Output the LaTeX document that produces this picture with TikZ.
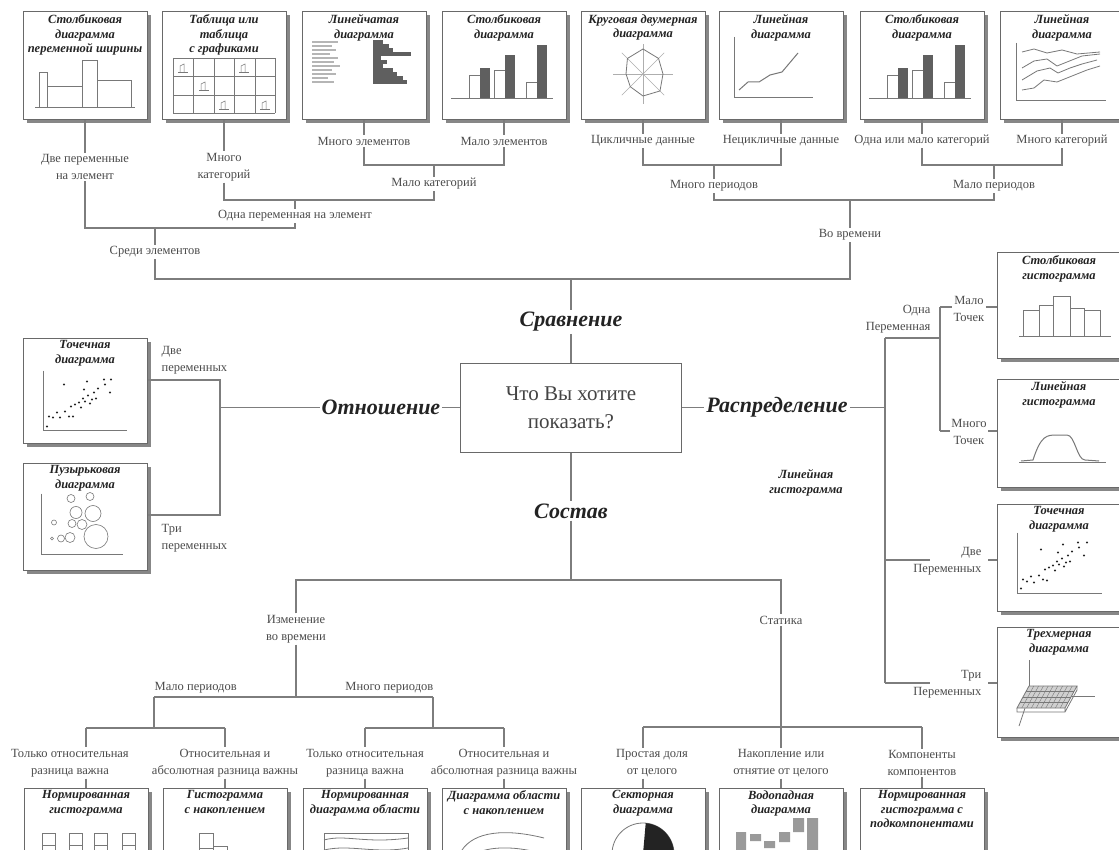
\documentclass[tikz,border=0pt]{standalone}
\usepackage{fontspec}
\setmainfont{Liberation Serif}
\usepackage{tikz}
\usetikzlibrary{calc, shadows}
\definecolor{figL}{RGB}{125,125,125}
\definecolor{figT}{RGB}{75,75,75}
\definecolor{figK}{RGB}{35,35,35}
\definecolor{figB}{RGB}{105,105,105}
\definecolor{figS}{RGB}{135,135,135}
\definecolor{figC}{RGB}{120,120,120}
\definecolor{figD}{RGB}{95,95,95}
\tikzset{
  ln/.style={draw=figL, line width=1.2pt},
  lbl/.style={font=\fontsize{12.5}{17}\selectfont, text=figT, align=center, inner sep=1.5pt},
  cat/.style={font=\fontsize{22}{26}\selectfont\bfseries\itshape, text=figK, inner sep=2pt},
  cbox/.style={draw=figB, fill=white, line width=1pt, minimum width=124pt, minimum height=108pt,
    drop shadow={shadow xshift=3.5pt, shadow yshift=-3.5pt, fill=figS, opacity=1}},
  ctitle/.style={font=\fontsize{12.5}{14.5}\selectfont\bfseries\itshape, text=figK, align=center, inner sep=0pt},
  chart/.style={draw=figC, line width=0.8pt},
}
\newcommand{\boxtitle}[2]{\node[ctitle, anchor=north] (#1-t) at ([yshift=-3pt]#1.north) {#2};}

\begin{document}
\begin{tikzpicture}[x=1pt, y=-1pt]
\useasboundingbox (0,0) rectangle (1119,850);
\clip (0,0) rectangle (1119,850);

% ===== top row: comparison =====
\foreach \nm/\cx in {bVar/85, bTab/224, bBar/364, bCol/504, bRad/643, bLin/781, bColB/922, bLinB/1062}
  \node[cbox] (\nm) at (\cx,66) {};
\boxtitle{bVar}{Столбиковая\\диаграмма\\переменной ширины}
\boxtitle{bTab}{Таблица или\\таблица\\с графиками}
\boxtitle{bBar}{Линейчатая\\диаграмма}
\boxtitle{bCol}{Столбиковая\\диаграмма}
\boxtitle{bRad}{Круговая двумерная\\диаграмма}
\boxtitle{bLin}{Линейная\\диаграмма}
\boxtitle{bColB}{Столбиковая\\диаграмма}
\boxtitle{bLinB}{Линейная\\диаграмма}

% variable width columns
\begin{scope}[shift={(bVar.center)}]
\draw[chart] (-50,41) -- (50,41);
\draw[chart] (-46,41) rectangle (-38,6) (-38,41) rectangle (-3,20) (-3,41) rectangle (12,-6) (12,41) rectangle (46,14);
\end{scope}
% table with charts
\begin{scope}[shift={(bTab.center)}]
\foreach \gx in {-51,-31,-10,10,31,51} \draw[chart, line width=0.6pt] (\gx,-8) -- (\gx,47);
\foreach \gy in {-8,10,29,47} \draw[chart, line width=0.6pt] (-51,\gy) -- (51,\gy);
\foreach \ix/\iy in {-41/1, -20/19, 20/1, 0/38, 41/38} {
  \draw[chart, line width=0.5pt] (\ix-5,\iy+5) -- (\ix+5,\iy+5);
  \draw[chart, line width=0.5pt] (\ix-3,\iy+5) -- (\ix-3,\iy-1) -- (\ix+1,\iy-3) -- (\ix+1,\iy+5);
}
\end{scope}
% bar chart
\begin{scope}[shift={(bBar.center)}]
\foreach \yy/\len in {-24/26, -20/20, -16/24, -12/18, -8/26, -4/22, 0/28, 4/20, 8/24, 12/16, 16/22}
  \draw[figC!55, line width=1.3pt] (-52,\yy) -- ++(\len,0);
\foreach \yy/\len in {-24/10, -20/16, -16/20, -12/38, -8/8, -4/14, 0/10, 4/20, 8/24, 12/30, 16/34}
  \fill[figD] (9,\yy-1.6) rectangle ++(\len,3.4);
\end{scope}
% column charts
\foreach \nm in {bCol, bColB} {
\begin{scope}[shift={(\nm.center)}]
\draw[chart] (-53,32) -- (49,32);
\foreach \xx/\hw/\hd in {-35/23/30, -10/28/43, 22/16/53} {
  \draw[chart] (\xx,32) rectangle ++(11,-\hw);
  \fill[figD] (\xx+11,32) rectangle ++(10,-\hd);
}
\end{scope}}
% radar
\begin{scope}[shift={(bRad.center)}]
\foreach \a in {0,45,...,315} \draw[figC!60, line width=0.5pt] (0,8) -- ++(\a:30);
\draw[chart] ($(0,8)+(0:20)$) -- ($(0,8)+(45:24)$) -- ($(0,8)+(90:22)$) -- ($(0,8)+(135:18)$)
  -- ($(0,8)+(180:17)$) -- ($(0,8)+(225:22)$) -- ($(0,8)+(270:25)$) -- ($(0,8)+(315:22)$) -- cycle;
\end{scope}
% line chart
\begin{scope}[shift={(bLin.center)}]
\draw[chart] (-47,-29) -- (-47,31) -- (32,31);
\draw[chart, line width=1pt] (-42,24) -- (-33,16) -- (-22,16) -- (-11,9) -- (1,6) -- (17,-13);
\end{scope}
% many lines
\begin{scope}[shift={(bLinB.center)}]
\draw[chart] (-46,-23) -- (-46,34) -- (44,34);
\draw[chart] (-40,-14) -- (-28,-17) -- (-15,-13) -- (0,-16) -- (15,-12) -- (38,-14);
\draw[chart] (-40,2) -- (-28,-5) -- (-15,-7) -- (-5,0) -- (5,-4) -- (20,-10) -- (38,-12);
\draw[chart] (-40,14) -- (-25,5) -- (-12,2) -- (-4,7) -- (8,2) -- (20,-2) -- (35,-6);
\draw[chart] (-40,24) -- (-28,22) -- (-18,14) -- (-5,16) -- (10,10) -- (25,4) -- (38,0);
\end{scope}

% ===== top labels and brackets =====
\node[lbl] (lTwoVar) at (85,167) {Две переменные\\на элемент};
\node[lbl] (lManyCat) at (224,167) {Много\\категорий};
\node[lbl] (lManyEl) at (364,141) {Много элементов};
\node[lbl] (lFewEl) at (504,141) {Мало элементов};
\node[lbl] (lFewCat) at (434,184) {Мало категорий};
\node[lbl] (lOneVar) at (295,216) {Одна переменная на элемент};
\node[lbl] (lAmong) at (155,252) {Среди элементов};
\node[lbl] (lCyc) at (643,141) {Цикличные данные};
\node[lbl] (lNonCyc) at (781,141) {Нецикличные данные};
\node[lbl] (lOneFew) at (922,141) {Одна или мало категорий};
\node[lbl] (lManyCatB) at (1062,141) {Много категорий};
\node[lbl] (lManyPer) at (714,186) {Много периодов};
\node[lbl] (lFewPer) at (994,186) {Мало периодов};
\node[lbl] (lOverTime) at (850,235) {Во времени};
\coordinate (jEl) at (434,165);
\coordinate (jCat) at (295,200);
\coordinate (jVar) at (155,228);
\coordinate (jCyc) at (714,165);
\coordinate (jPer) at (994,165);
\coordinate (jTime) at (850,200);
\coordinate (jCmp) at (571,279);

\draw[ln] (bVar.south) -- (lTwoVar.north);
\draw[ln] (bTab.south) -- (lManyCat.north);
\draw[ln] (bBar.south) -- (lManyEl.north);
\draw[ln] (bCol.south) -- (lFewEl.north);
\draw[ln] (bRad.south) -- (lCyc.north);
\draw[ln] (bLin.south) -- (lNonCyc.north);
\draw[ln] (bColB.south) -- (lOneFew.north);
\draw[ln] (bLinB.south) -- (lManyCatB.north);
\draw[ln] (lManyEl.south) |- (jEl) -| (lFewEl.south);
\draw[ln] (jEl) -- (lFewCat.north);
\draw[ln] (lManyCat.south) |- (jCat) -| (lFewCat.south);
\draw[ln] (jCat) -- (lOneVar.north);
\draw[ln] (lTwoVar.south) |- (jVar) -| (lOneVar.south);
\draw[ln] (jVar) -- (lAmong.north);
\draw[ln] (lCyc.south) |- (jCyc) -| (lNonCyc.south);
\draw[ln] (jCyc) -- (lManyPer.north);
\draw[ln] (lOneFew.south) |- (jPer) -| (lManyCatB.south);
\draw[ln] (jPer) -- (lFewPer.north);
\draw[ln] (lManyPer.south) |- (jTime) -| (lFewPer.south);
\draw[ln] (jTime) -- (lOverTime.north);
\draw[ln] (lAmong.south) |- (jCmp) -| (lOverTime.south);

% ===== centre =====
\node[draw=figB, line width=1pt, minimum width=221pt, minimum height=89pt, text=figK!85,
  font=\fontsize{21}{28}\selectfont, align=center] (q) at (571,407.5) {Что Вы хотите\\показать?};
\node[cat] (cCmp) at (571,322) {Сравнение};
\node[cat] (cRel) at (381,407.5) {Отношение};
\node[cat] (cDist) at (777,407.5) {Распределение};
\node[cat] (cComp) at (571,511) {Состав};
\draw[ln] (jCmp) -- (cCmp.north);
\draw[ln] (cCmp.south) -- (q.north);
\draw[ln] (q.west) -- (cRel.east);
\draw[ln] (q.east) -- (cDist.west);
\draw[ln] (q.south) -- (cComp.north);

% ===== relationship =====
\node[cbox, minimum height=105pt] (bSc) at (85,390.5) {};
\node[cbox, minimum height=107pt] (bBub) at (85,516.5) {};
\boxtitle{bSc}{Точечная\\диаграмма}
\boxtitle{bBub}{Пузырьковая\\диаграмма}
\begin{scope}[shift={(bSc.center)}]
\draw[chart] (-42,-20) -- (-42,40) -- (42,40);
\foreach \px/\py in {-38/36, -36/26, -32/27, -28/22, -25/27, -20/21, -16/26, -12/26, -14/16, -10/14, -6/12, -4/17, -2/8, 0/11, 3/5, 5/13, 7/9, 9/2, 11/8, 13/-2, -1/-1, 20/-6, 25/2, 26/-11, 19/-11, -21/-6, 2/-9}
  \fill[figK] (\px,\py) circle (1.1);
\end{scope}
\begin{scope}[shift={(bBub.center)}]
\draw[chart] (-44,-23) -- (-44,38) -- (38,38);
\foreach \bx/\by/\br in {-14/-18/4, 5/-20/4, -9/-4/6, 8/-3/8, -31/6/2.5, -13/7/4, -3/8/5, 11/20/12, -33/22/1.5, -24/22/3.5, -15/21/5}
  \draw[chart, line width=0.6pt] (\bx,\by) circle (\br);
\end{scope}
\node[lbl, anchor=west, align=left] (lTwoRel) at (160,360) {Две\\переменных};
\node[lbl, anchor=west, align=left] (lThreeRel) at (160,538) {Три\\переменных};
\coordinate (jRel) at (220,407.5);
\coordinate (jRelA) at (220,380);
\coordinate (jRelB) at (220,515);
\draw[ln] (cRel.west) -- (jRel);
\draw[ln] (bSc.east |- jRelA) -- (jRelA) -- (jRelB) -- (bBub.east |- jRelB);

% ===== distribution =====
\node[cbox, minimum height=105pt] (bHist) at (1059,305.5) {};
\node[cbox] (bLHist) at (1059,433) {};
\node[cbox, minimum height=107pt] (bScR) at (1059,557.5) {};
\node[cbox, minimum height=110pt] (b3D) at (1059,682) {};
\boxtitle{bHist}{Столбиковая\\гистограмма}
\boxtitle{bLHist}{Линейная\\гистограмма}
\boxtitle{bScR}{Точечная\\диаграмма}
\boxtitle{b3D}{Трехмерная\\диаграмма}
\begin{scope}[shift={(bHist.center)}]
\draw[chart] (-40,31) -- (52,31);
\draw[chart] (-36,31) rectangle (-20,5) (-20,31) rectangle (-6,0) (-6,31) rectangle (11,-9)
  (11,31) rectangle (25,3) (25,31) rectangle (41,5);
\end{scope}
\begin{scope}[shift={(bLHist.center)}]
\draw[chart] (-40,29) -- (47,29);
\draw[chart, line width=1pt] (-38,28) -- (-26,27) .. controls (-18,2) and (-12,2) .. (-2,2) -- (8,2)
  .. controls (16,2) and (18,27) .. (26,27) -- (40,28);
\end{scope}
\begin{scope}[shift={(bScR.center)}]
\draw[chart] (-42,-25) -- (-42,36) -- (43,36);
\foreach \px/\py in {-38/31, -36/22, -32/24, -28/19, -25/25, -20/18, -16/22, -12/23, -14/12, -10/10, -6/8, -4/13, -2/4, 0/7, 3/1, 5/9, 7/5, 9/-2, 11/4, 13/-6, -1/-5, 20/-10, 25/-2, 28/-15, 19/-15, -18/-8, 4/-13}
  \fill[figK] (\px,\py) circle (1.1);
\end{scope}
\begin{scope}[shift={(b3D.center)}]
\draw[chart] (-30,-22) -- (-30,14) -- (36,14);
\draw[chart] (-30,14) -- (-40,44);
\fill[figC!35] (-42,26) -- (6,26) -- (18,4) -- (-30,4) -- cycle;
\foreach \t in {0.1,0.2,...,0.9}
  \draw[figC, line width=0.4pt] ($(-42,26)!\t!(6,26)$) -- ($(-30,4)!\t!(18,4)$);
\foreach \t in {0.25,0.5,0.75}
  \draw[figC, line width=0.4pt] ($(-42,26)!\t!(-30,4)$) -- ($(6,26)!\t!(18,4)$);
\draw[chart] (-42,26) -- (6,26) -- (18,4) -- (-30,4) -- cycle;
\draw[chart] (-42,26) -- (-42,30) -- (6,30) -- (6,26) (6,30) -- (18,8) -- (18,4);
\end{scope}

\node[lbl, anchor=east, align=right] (lOneDist) at (932,319) {Одна\\Переменная};
\node[lbl] (lFewP) at (969,309) {Мало\\Точек};
\node[lbl] (lManyP) at (969,432) {Много\\Точек};
\node[lbl, anchor=east, align=right] (lTwoDist) at (983,561) {Две\\Переменных};
\node[lbl, anchor=east, align=right] (lThreeDist) at (983,684) {Три\\Переменных};
\node[ctitle] (lLineHist) at (806,483) {Линейная\\гистограмма};
\coordinate (jDist) at (885,407.5);
\coordinate (jDistT) at (885,338);
\coordinate (jDistB) at (885,683);
\coordinate (jOne) at (940,338);
\coordinate (jFewP) at (940,307);
\coordinate (jManyP) at (940,431);
\coordinate (jTwo) at (885,560);
\coordinate (jTwoE) at (930,560);
\coordinate (jTwoR) at (988,560);
\coordinate (jThreeE) at (930,683);
\coordinate (jThreeR) at (988,683);
\draw[ln] (cDist.east) -- (jDist);
\draw[ln] (jDistT) -- (jDistB);
\draw[ln] (jDistT) -- (jOne);
\draw[ln] (jFewP) -- (jManyP);
\draw[ln] (jFewP) -- (lFewP.west |- jFewP);
\draw[ln] (lFewP.east |- jFewP) -- (bHist.west |- jFewP);
\draw[ln] (jManyP) -- (lManyP.west |- jManyP);
\draw[ln] (lManyP.east |- jManyP) -- (bLHist.west |- jManyP);
\draw[ln] (jTwo) -- (jTwoE);
\draw[ln] (jTwoR) -- (bScR.west |- jTwoR);
\draw[ln] (jDistB) -- (jThreeE);
\draw[ln] (jThreeR) -- (b3D.west |- jThreeR);

% ===== composition =====
\node[lbl] (lChange) at (296,629) {Изменение\\во времени};
\node[lbl] (lStatic) at (781,620) {Статика};
\node[lbl, anchor=south west] (lFewL) at (153,695) {Мало периодов};
\node[lbl, anchor=south east] (lManyL) at (435,695) {Много периодов};
\coordinate (jComp) at (571,580);
\coordinate (jChange) at (296,697);
\coordinate (jFewL) at (154,697);
\coordinate (jManyL) at (433,697);
\coordinate (jFewB) at (154,728);
\coordinate (jManyB) at (433,728);
\coordinate (jL1) at (86,728);
\coordinate (jL2) at (225,728);
\coordinate (jL3) at (365,728);
\coordinate (jL4) at (504,728);
\coordinate (jStatic) at (781,727);
\coordinate (jS1) at (643,727);
\coordinate (jS3) at (922,727);
\draw[ln] (cComp.south) -- (jComp);
\draw[ln] (lChange.north) |- (jComp) -| (lStatic.north);
\draw[ln] (lChange.south) -- (jChange);
\draw[ln] (jFewL) -- (jManyL);
\draw[ln] (jFewL) -- (jFewB);
\draw[ln] (jManyL) -- (jManyB);
\draw[ln] (jL1) -- (jL2);
\draw[ln] (jL3) -- (jL4);
\draw[ln] (lStatic.south) -- (jStatic);
\draw[ln] (jS1) -- (jS3);

\foreach \nm/\cx in {bNorm/86, bStk/225, bNArea/365, bSArea/504, bPie/643, bWat/781, bSub/922}
  \node[cbox] (\nm) at (\cx,842) {};
\boxtitle{bNorm}{Нормированная\\гистограмма}
\boxtitle{bStk}{Гистограмма\\с накоплением}
\boxtitle{bNArea}{Нормированная\\диаграмма области}
\boxtitle{bSArea}{Диаграмма области\\с накоплением}
\boxtitle{bPie}{Секторная\\диаграмма}
\boxtitle{bWat}{Водопадная\\диаграмма}
\boxtitle{bSub}{Нормированная\\гистограмма с\\подкомпонентами}

\node[lbl] (lRel1) at (70,763) {Только относительная\\разница важна};
\node[lbl] (lRel2) at (225,763) {Относительная и\\абсолютная разница важны};
\node[lbl] (lRel3) at (365,763) {Только относительная\\разница важна};
\node[lbl] (lRel4) at (504,763) {Относительная и\\абсолютная разница важны};
\node[lbl] (lShare) at (652,763) {Простая доля\\от целого};
\node[lbl] (lAccum) at (781,763) {Накопление или\\отнятие от целого};
\node[lbl] (lCompC) at (922,763) {Компоненты\\компонентов};
\draw[ln] (jL1) -- (jL1 |- lRel1.north);
\draw[ln] (jL1 |- lRel1.south) -- (bNorm.north);
\draw[ln] (jL2) -- (lRel2.north);
\draw[ln] (lRel2.south) -- (bStk.north);
\draw[ln] (jL3) -- (lRel3.north);
\draw[ln] (lRel3.south) -- (bNArea.north);
\draw[ln] (jL4) -- (lRel4.north);
\draw[ln] (lRel4.south) -- (bSArea.north);
\draw[ln] (jS1) -- (jS1 |- lShare.north);
\draw[ln] (jS1 |- lShare.south) -- (bPie.north);
\draw[ln] (jStatic) -- (lAccum.north);
\draw[ln] (lAccum.south) -- (bWat.north);
\draw[ln] (jS3) -- (lCompC.north);
\draw[ln] (lCompC.south) -- (bSub.north);

% bottom mini charts
\begin{scope}[shift={(bNorm.center)}]
\foreach \xx in {-44,-17,8,36} {
  \draw[chart] (\xx,-9) rectangle ++(13,50);
  \draw[chart] (\xx,3) -- ++(13,0);
}
\end{scope}
\begin{scope}[shift={(bStk.center)}]
\draw[chart] (-26,-9) rectangle (-12,45) (-12,4) rectangle (2,45);
\draw[chart] (-26,6) -- (-12,6) (-12,14) -- (2,14);
\end{scope}
\begin{scope}[shift={(bNArea.center)}]
\draw[chart] (-41,-9) rectangle (43,45);
\draw[chart] (-41,-2) .. controls (-20,-8) and (0,2) .. (43,-4);
\draw[chart] (-41,8) .. controls (-15,2) and (10,12) .. (43,6);
\end{scope}
\begin{scope}[shift={(bSArea.center)}]
\draw[chart] (-42,8) .. controls (-30,-10) and (0,-14) .. (40,-4);
\draw[chart] (-42,20) .. controls (-25,4) and (5,2) .. (40,12);
\end{scope}
\begin{scope}[shift={(bPie.center)}]
\draw[chart] (0,12) circle (31);
\fill[figK] (0,12) -- ++(-85:31) arc[start angle=-85, end angle=40, radius=31] -- cycle;
\end{scope}
\begin{scope}[shift={(bWat.center)}]
\fill[figC!75] (-45,-10) rectangle (-35,40) (-31,-8) rectangle (-20,-1) (-17,-1) rectangle (-6,6)
  (-2,-10) rectangle (9,0) (12,-24) rectangle (23,-10) (26,-24) rectangle (37,40);
\end{scope}
\end{tikzpicture}
\end{document}
